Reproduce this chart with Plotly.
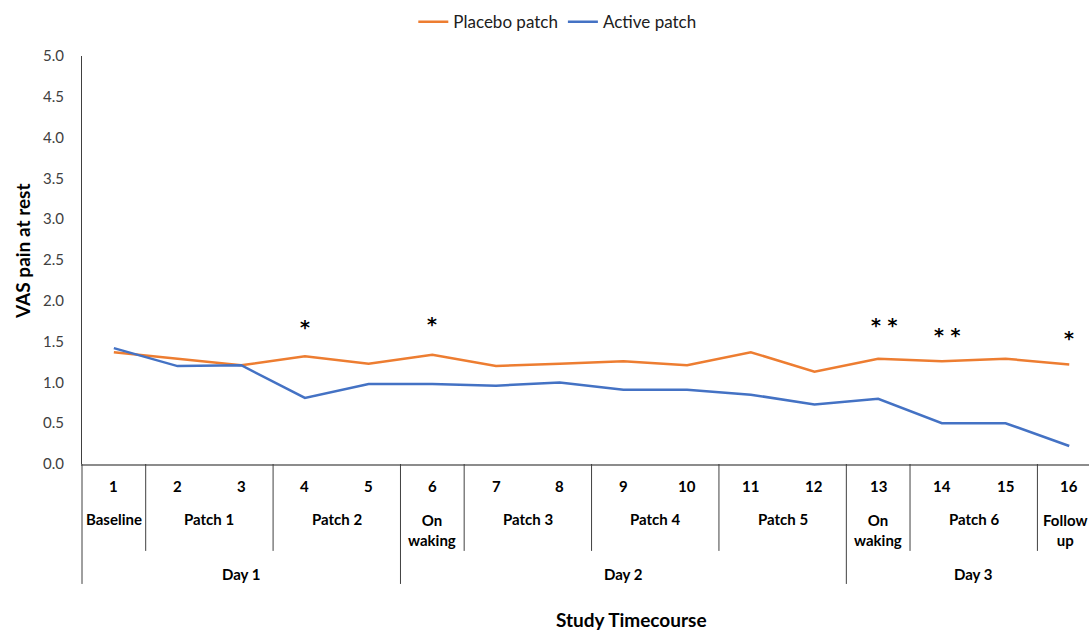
import plotly.graph_objects as go

# Study timepoints and mean VAS pain at rest
timepoints = list(range(1, 17))
placebo = [1.37, 1.29, 1.21, 1.32, 1.23, 1.34, 1.20, 1.23, 1.26, 1.21, 1.37, 1.13, 1.29, 1.26, 1.29, 1.22]
active = [1.42, 1.20, 1.21, 0.81, 0.98, 0.98, 0.96, 1.00, 0.91, 0.91, 0.85, 0.73, 0.80, 0.50, 0.50, 0.22]

# Phase groups: (label, first timepoint, last timepoint)
phases = [
    ("Baseline", 1, 1), ("Patch 1", 2, 3), ("Patch 2", 4, 5), ("On<br>waking", 6, 6),
    ("Patch 3", 7, 8), ("Patch 4", 9, 10), ("Patch 5", 11, 12), ("On<br>waking", 13, 13),
    ("Patch 6", 14, 15), ("Follow<br>up", 16, 16),
]
days = [("Day 1", 1, 5), ("Day 2", 6, 12), ("Day 3", 13, 16)]

# Significance markers: (timepoint, marker, height)
significance = [(4, "*", 1.68), (6, "*", 1.72), (13, "* *", 1.70), (14, "* *", 1.58), (16, "*", 1.55)]

FONT = "Lato, Open Sans, sans-serif"
TXT = "#000000"

fig = go.Figure()
fig.add_trace(go.Scatter(x=timepoints, y=placebo, mode="lines", name="Placebo patch",
                         line=dict(color="#ED7D31", width=2.5)))
fig.add_trace(go.Scatter(x=timepoints, y=active, mode="lines", name="Active patch",
                         line=dict(color="#4472C4", width=2.5)))

annotations = []
shapes = []

# Timepoint numbers
for t in timepoints:
    annotations.append(dict(x=t, y=-0.054, xref="x", yref="paper", yanchor="middle",
                            text=f"<b>{t}</b>", showarrow=False,
                            font=dict(size=15, color=TXT, family=FONT)))

# Phase labels and short dividers
for label, a, b in phases:
    two_line = "<br>" in label
    annotations.append(dict(x=(a + b) / 2, y=-0.162 if two_line else -0.135, xref="x", yref="paper",
                            yanchor="middle", text=f"<b>{label}</b>", showarrow=False,
                            xshift=-4 if b == timepoints[-1] else 0,
                            font=dict(size=15, color=TXT, family=FONT)))
day_edges = {d[1] - 0.5 for d in days}
for label, a, b in phases[1:]:
    edge = a - 0.5
    if edge not in day_edges:
        shapes.append(dict(type="line", xref="x", yref="paper", x0=edge, x1=edge, y0=0, y1=-0.213,
                           line=dict(color="#404040", width=1)))

# Day labels and long dividers
for label, a, b in days:
    annotations.append(dict(x=(a + b) / 2, y=-0.27, xref="x", yref="paper", yanchor="middle",
                            text=f"<b>{label}</b>", showarrow=False,
                            font=dict(size=15, color=TXT, family=FONT)))
for label, a, b in days[1:]:
    edge = a - 0.5
    shapes.append(dict(type="line", xref="x", yref="paper", x0=edge, x1=edge, y0=0, y1=-0.294,
                       line=dict(color="#404040", width=1)))
shapes.append(dict(type="line", xref="paper", yref="paper", x0=0, x1=0, y0=0, y1=-0.294,
                   line=dict(color="#404040", width=1)))

# Significance asterisks
for t, mark, h in significance:
    annotations.append(dict(x=t, y=h, xref="x", yref="y", yanchor="middle", text=f"<b>{mark}</b>",
                            showarrow=False, xshift=6 if len(mark) > 1 else 0,
                            font=dict(size=19, color=TXT, family="DejaVu Sans")))

# Axis titles (positions given in pixels, converted to paper coordinates)
PLOT_L, PLOT_W, PLOT_B, PLOT_H = 82, 1007, 464, 408
annotations.append(dict(x=0.546, y=-0.382, xref="paper", yref="paper", yanchor="middle",
                        text="<b>Study Timecourse</b>", showarrow=False,
                        font=dict(size=19, color=TXT, family=FONT)))
annotations.append(dict(x=(22 - PLOT_L) / PLOT_W, y=(PLOT_B - 251) / PLOT_H,
                        xref="paper", yref="paper", showarrow=False,
                        text="<b>VAS pain at rest</b>", textangle=-90,
                        xanchor="center", yanchor="middle",
                        font=dict(size=19, color=TXT, family=FONT)))

fig.update_layout(
    width=1089, height=630,
    margin=dict(l=82, r=0, t=56, b=166),
    paper_bgcolor="white", plot_bgcolor="white",
    font=dict(family=FONT, color="#404040"),
    showlegend=True,
    legend=dict(orientation="h", x=0.472, xanchor="center", y=1.083, yanchor="middle",
                font=dict(size=17, color="#202020", family=FONT), bgcolor="rgba(0,0,0,0)"),
    xaxis=dict(range=[0.5, 16.31], showticklabels=False, ticks="", showgrid=False, zeroline=False,
               showline=True, linecolor="#8c8c8c", linewidth=2),
    yaxis=dict(range=[0, 5], dtick=0.5, tickformat=".1f", showgrid=False, zeroline=False,
               showline=True, linecolor="#404040", linewidth=1, ticks="",
               ticklabelstandoff=14,
               tickfont=dict(size=15, color="#404040", family=FONT)),
    annotations=annotations,
    shapes=shapes,
)

fig.write_html("out.html")
